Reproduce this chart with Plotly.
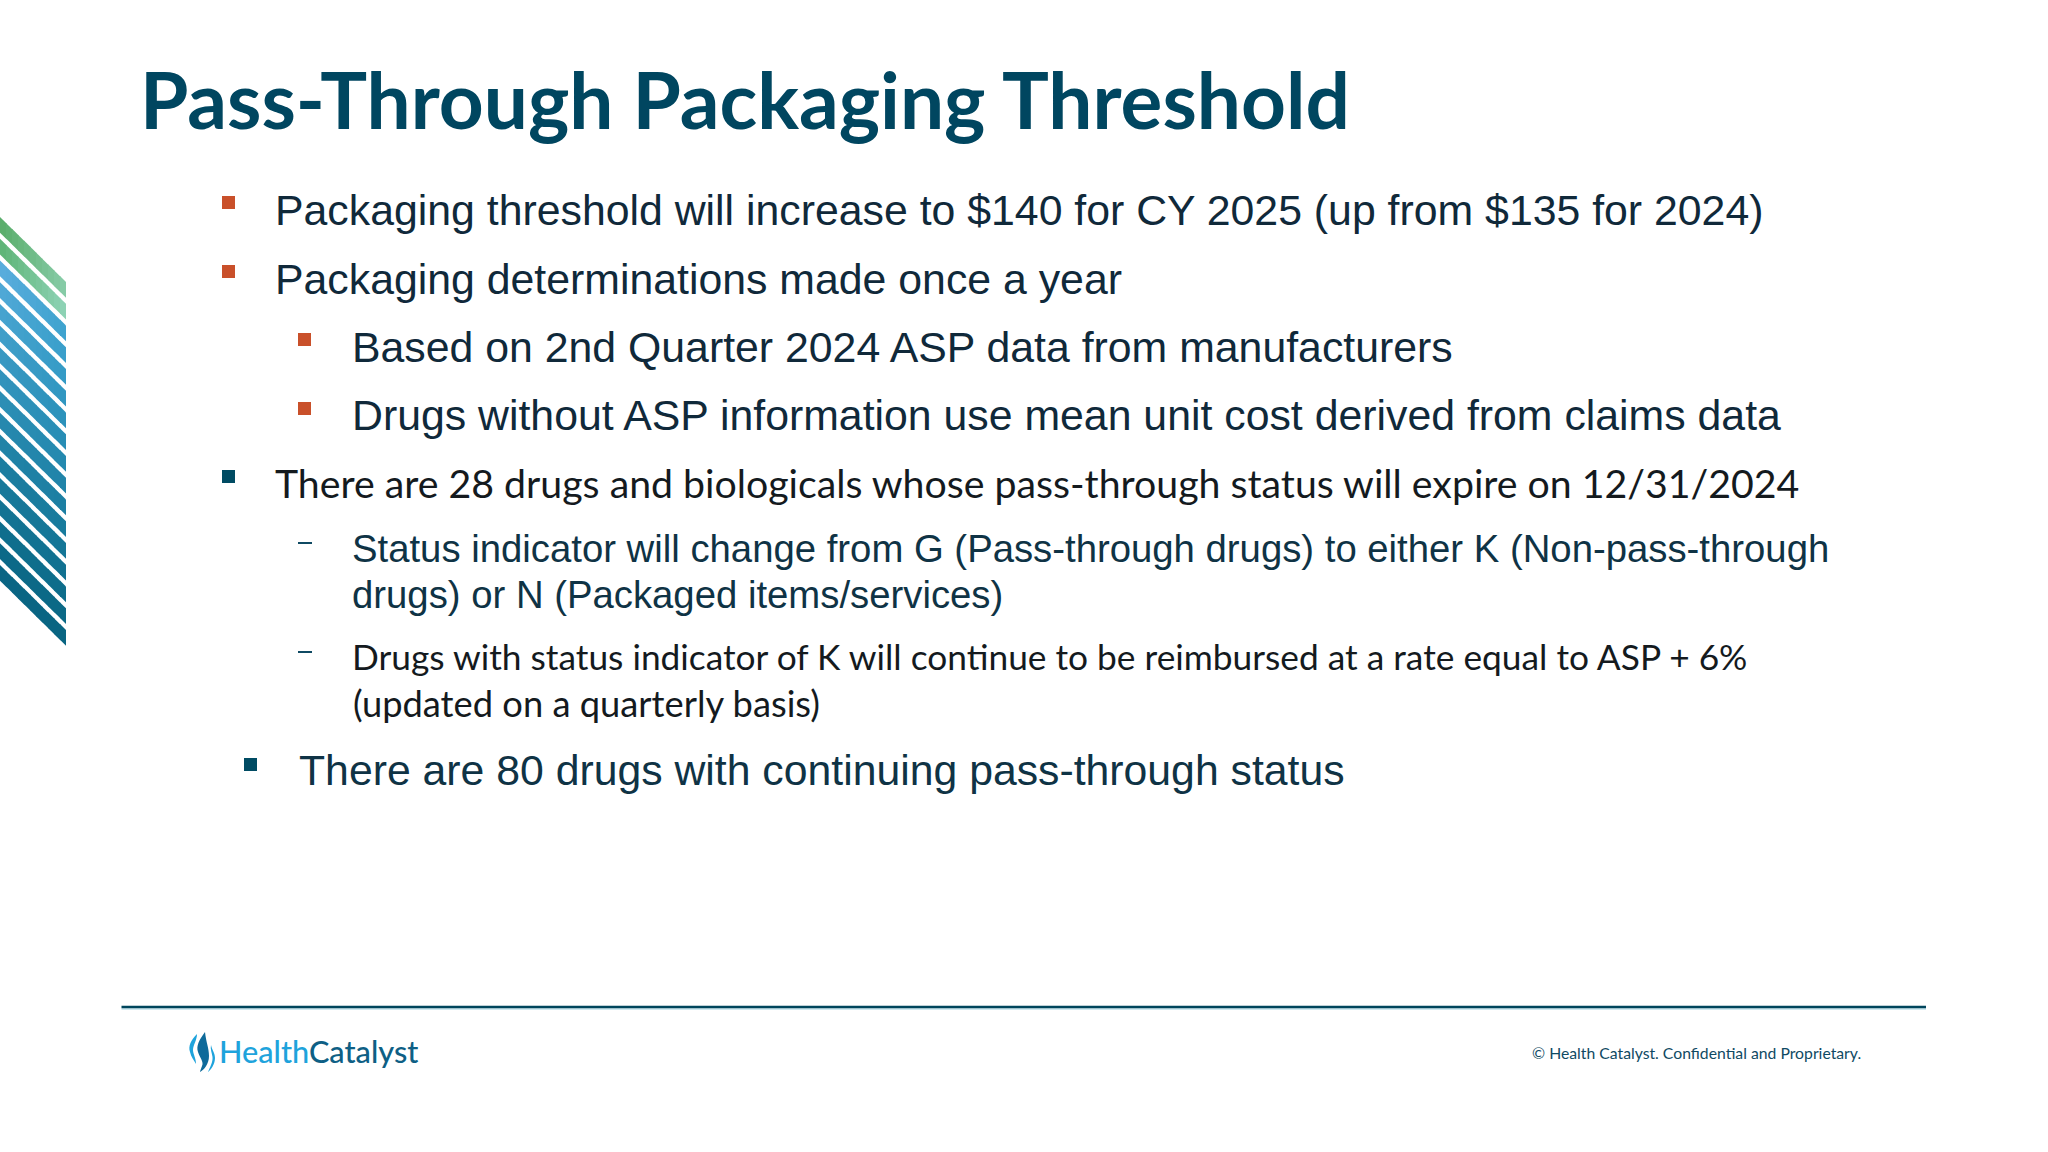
#!/usr/bin/env python3
# -*- coding: utf-8 -*-
import plotly.graph_objects as go

W, H = 2048, 1152

TITLE = 'Pass-Through Packaging Threshold'
FOOTER = '© Health Catalyst. Confidential and Proprietary.'

BODY_LINES = [
	'Packaging threshold will increase to $140 for CY 2025 (up from $135 for 2024)',
	'Packaging determinations made once a year',
	'Based on 2nd Quarter 2024 ASP data from manufacturers',
	'Drugs without ASP information use mean unit cost derived from claims data',
	'There are 28 drugs and biologicals whose pass-through status will expire on 12/31/2024',
	'Status indicator will change from G (Pass-through drugs) to either K (Non-pass-through',
	'drugs) or N (Packaged items/services)',
	'Drugs with status indicator of K will continue to be reimbursed at a rate equal to ASP + 6%',
	'(updated on a quarterly basis)',
	'There are 80 drugs with continuing pass-through status',
]
BODY_X = [273, 273, 350, 350, 273, 350, 350, 350, 350.5, 297]
BODY_Y = [210, 278.5, 346.5, 414.5, 482.5, 548, 594.5, 656.5, 703, 770]
BODY_SIZE = [42.8, 42.8, 42.8, 42.8, 39.25, 38.3, 38.3, 35.3, 36.3, 42.75]
BODY_FONT = ['Liberation Sans'] * 4 + ['Lato', 'Liberation Sans', 'Liberation Sans', 'Lato', 'Lato', 'Liberation Sans']
BODY_COLOR = ['#10293A'] * 4 + ['#141A1E', '#0F3345', '#0F3345', '#141A1E', '#141A1E', '#0F3345']

# bullets: x, y of the upper left corner
SQUARE_X = [222, 222, 298, 298, 222, 244]
SQUARE_Y = [196, 265, 333, 402, 470, 758]
SQUARE_COL = ['#C9502A', '#C9502A', '#C9502A', '#C9502A', '#004B63', '#004B63']
DASH_X = [298, 298]
DASH_Y = [543, 652]

# stripes, colours at left and right end
STRIPE_LEFT = ['#5BAE6C', '#5FB578', '#58ACDC', '#4FA8D6', '#46A3CF', '#3F9EC9', '#3898C2', '#3293BC',
	'#2C8EB5', '#2688AE', '#2183A7', '#1C7DA0', '#17789A', '#137393', '#0F6E8D', '#0C6988', '#0A6584']
STRIPE_RIGHT = ['#86CBA6', '#8DD2B4', '#3FA3CF', '#3A9FCB', '#359BC6', '#3197C1', '#2C92BB', '#288DB5',
	'#2489AF', '#2084A9', '#1C7FA3', '#187B9D', '#147697', '#117191', '#0E6D8B', '#0B6986', '#096582']


def hex_mix(a, b, t):
	ca = [int(a[i:i + 2], 16) for i in (1, 3, 5)]
	cb = [int(b[i:i + 2], 16) for i in (1, 3, 5)]
	return '#%02x%02x%02x' % tuple(round(p + (q - p) * t) for p, q in zip(ca, cb))


def stripe_shapes():
	out = []
	x_end, slope, top0, step, thick, parts = 66, 0.985, 217, 21.75, 15.7, 11
	for i, (cl, cr) in enumerate(zip(STRIPE_LEFT, STRIPE_RIGHT)):
		top = top0 + i * step
		for p in range(parts):
			x0 = x_end * p / parts
			x1 = x_end * (p + 1) / parts + (0.6 if p < parts - 1 else 0)
			y0, y1 = top + slope * x0, top + slope * x1
			path = f'M{x0:.1f},{y0:.1f} L{x1:.1f},{y1:.1f} L{x1:.1f},{y1 + thick:.1f} L{x0:.1f},{y0 + thick:.1f} Z'
			out.append(dict(type='path', path=path, fillcolor=hex_mix(cl, cr, p / (parts - 1)),
				line=dict(width=0), layer='below'))
	return out


def logo_shapes():
	flames = [
		('M197,1034 C191,1040 188,1046 190,1052 C191,1057 194,1060 196,1064 C196,1058 193,1054 193,1050 C193,1045 197,1040 197,1034 Z', '#1EA3DC'),
		('M205,1032 C199,1040 196,1046 198,1052 C200,1058 204,1062 202,1066 C201,1069 200,1071 200,1072 C204,1070 209,1064 209,1056 C209,1048 206,1042 205,1032 Z', '#0E6A9A'),
		('M211,1045 C212,1050 215,1053 215,1058 C215,1064 211,1070 208,1072 C210,1067 213,1062 212.5,1057 C212,1053 210,1049 211,1045 Z', '#1EA3DC'),
	]
	return [dict(type='path', path=p, fillcolor=c, line=dict(width=0)) for p, c in flames]


fig = go.Figure()

shapes = stripe_shapes() + logo_shapes()
for x, y, c in zip(SQUARE_X, SQUARE_Y, SQUARE_COL):
	shapes.append(dict(type='rect', x0=x, x1=x + 13, y0=y, y1=y + 13, fillcolor=c, line=dict(width=0)))
for x, y in zip(DASH_X, DASH_Y):
	shapes.append(dict(type='line', x0=x, x1=x + 14, y0=y, y1=y, line=dict(color='#0F4A63', width=2)))
# rule above the footer
shapes.append(dict(type='line', x0=121.5, x1=1926, y0=1009, y1=1009, line=dict(color='#BFE0EA', width=1.5)))
shapes.append(dict(type='line', x0=121.5, x1=1926, y0=1007, y1=1007, line=dict(color='#00455C', width=2.5)))

annotations = [
	dict(x=137.5, y=99, text=f'<b>{TITLE}</b>', xanchor='left', yanchor='middle', showarrow=False,
		font=dict(family='Lato', size=78.3, color='#004660')),
	dict(x=216.5, y=1051, text='<span style="color:#1EA3DC">Health</span><span style="color:#0E5F85">Catalyst</span>',
		xanchor='left', yanchor='middle', showarrow=False, font=dict(family='Lato', size=30.7, weight=500)),
	dict(x=1863, y=1052, text=FOOTER, xanchor='right', yanchor='middle', showarrow=False,
		font=dict(family='Lato', size=15.75, color='#0F4A63')),
]
for line, x, y, size, family, color in zip(BODY_LINES, BODY_X, BODY_Y, BODY_SIZE, BODY_FONT, BODY_COLOR):
	annotations.append(dict(x=x, y=y, text=line, xanchor='left', yanchor='middle', showarrow=False, align='left',
		font=dict(family=family, size=size, color=color)))

fig.update_layout(width=W, height=H, margin=dict(l=0, r=0, t=0, b=0), plot_bgcolor='white', paper_bgcolor='white',
	showlegend=False, shapes=shapes, annotations=annotations,
	xaxis=dict(range=[0, W], visible=False, fixedrange=True),
	yaxis=dict(range=[H, 0], visible=False, fixedrange=True))
# the page body has a default margin that would shift the slide
fig.write_html('out.html', config=dict(displayModeBar=False), post_script="document.body.style.margin='0';")
